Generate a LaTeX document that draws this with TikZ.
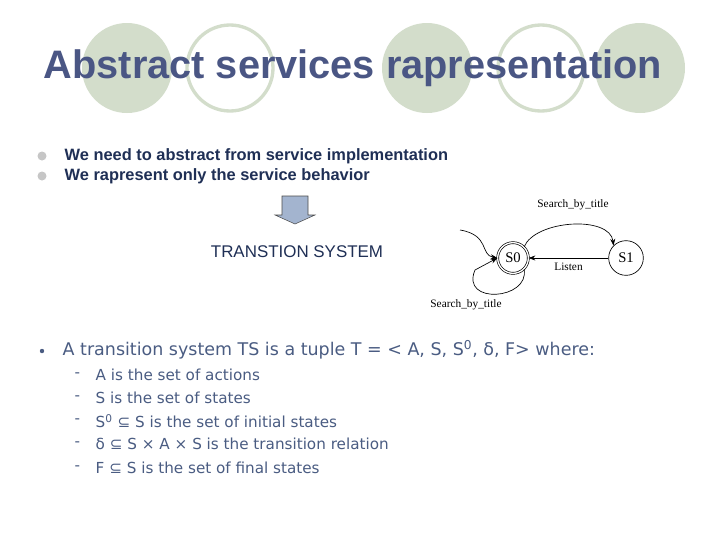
\documentclass[tikz,border=0pt]{standalone}
\usepackage{fontspec}
\setmainfont{Liberation Sans}
\newfontfamily\dv{DejaVu Sans}
\newfontfamily\ser{Liberation Serif}
\usetikzlibrary{arrows.meta}
\definecolor{cgreen}{HTML}{D3DDCB}
\definecolor{ctitle}{HTML}{4A5684}
\definecolor{ctext}{HTML}{1F2F55}
\definecolor{cbody}{HTML}{4A5C82}
\definecolor{carrow}{HTML}{A3B4CF}
\tikzset{
 fc/.style={fill=cgreen,draw=none},
 oc/.style={draw=cgreen,line width=2.5pt,fill=white},
 btxt/.style={anchor=west,text=ctext,font=\fontsize{12.3}{14}\selectfont\bfseries},
 body/.style={anchor=west,text=cbody,font=\dv\fontsize{11.4}{14}\selectfont},
 lab/.style={font=\ser\fontsize{8.5}{10}\selectfont},
 st/.style={circle,draw,line width=0.5pt,font=\ser\fontsize{11}{12}\selectfont},
 edge/.style={-{Stealth[length=5pt]},line width=0.5pt}
}
\begin{document}
\begin{tikzpicture}[x=0.75pt,y=-0.75pt]
\useasboundingbox (0,0) rectangle (720,540);
\fill[white] (0,0) rectangle (720,540);
\fill[cgreen] (127,68) circle (45);
\draw[oc] (230,68) circle (43);
\fill[cgreen] (427,68) circle (45);
\draw[oc] (541,68) circle (43);
\fill[cgreen] (640,68) circle (45);
\node[text=ctitle,font=\fontsize{29.8}{34}\selectfont\bfseries] (title) at (353,68) {Abstract services rapresentation};
\fill[gray!45] (42,156) circle (4.5);
\fill[gray!45] (42,176) circle (4.5);
\node[btxt] (b1) at (60,156) {We need to abstract from service implementation};
\node[btxt] (b2) at (60,176) {We rapresent only the service behavior};
\draw[gray!60!black,fill=carrow,line width=0.4pt] (282,196) -- (308,196) -- (308,215) -- (315,215) -- (295,224) -- (275,215) -- (282,215) -- cycle;
\node[text=ctext,font=\fontsize{12.7}{14}\selectfont] (ts) at (297,252) {TRANSTION SYSTEM};
\node[st,double,double distance=1pt,minimum size=23pt,inner sep=0pt] (s0) at (513,258) {S0};
\node[st,minimum size=26pt,inner sep=0pt] (s1) at (626,258) {S1};
\coordinate (init) at (460,230);
\draw[edge] (init) .. controls (490,235) and (480,255) .. (s0.west);
\draw[edge] (s0.north east) .. controls (535,220) and (610,215) .. (s1.north west);
\draw[edge] (s1) -- node[lab,below] {Listen} (s0);
\draw[edge] (s0.south east) .. controls (530,300) and (460,305) .. (475,270) -- (s0.west);
\node[lab] (l1) at (573,205) {Search\_by\_title};
\node[lab] (l3) at (466,305) {Search\_by\_title};
\fill[cbody] (42,351) circle (2.2);
\node[body,font=\dv\fontsize{13.1}{15}\selectfont] (t0) at (58,350) {A transition system TS is a tuple T = < A, S, S\textsuperscript{0}, δ, F> where:};
\foreach \y/\t in {375/{A is the set of actions},398/{S is the set of states},421/{S\textsuperscript{0} ⊆ S is the set of initial states},444/{δ ⊆ S × A × S is the transition relation},468/{F ⊆ S is the set of final states}}{
 \node[body] at (70,\y) {-};
 \node[body] at (91,\y) {\t};
}
\end{tikzpicture}
\end{document}
